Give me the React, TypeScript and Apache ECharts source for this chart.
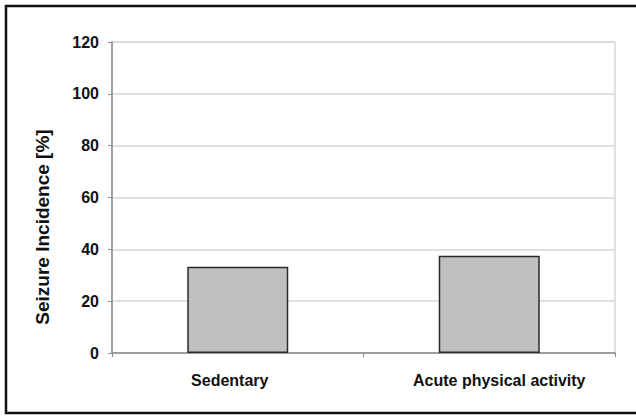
import React, { useEffect, useRef } from "react";
import * as echarts from "echarts";

const categories = ["Sedentary", "Acute physical activity"];
const seizureIncidence = [33.3, 37.5];
const yTicks = [0, 20, 40, 60, 80, 100, 120];
const yTitle = "Seizure Incidence [%]";

export default function App() {
  const ref = useRef<HTMLDivElement>(null);
  useEffect(() => {
    if (!ref.current) return;
    const chart = echarts.init(ref.current, undefined, { renderer: "svg" });
    const font = "Liberation Sans, Arial, Helvetica, sans-serif";
    chart.setOption({
      animation: false,
      backgroundColor: "#ffffff",
      grid: {
        left: 112,
        right: 21,
        top: 42,
        bottom: 63,
        show: true,
        borderColor: "#c4c4c4",
        borderWidth: 1,
        containLabel: false,
      },
      xAxis: {
        type: "category",
        data: categories,
        axisLine: { show: true, lineStyle: { color: "#8a8a8a", width: 1.5 } },
        axisTick: { show: true, length: 4, lineStyle: { color: "#8a8a8a" } },
        axisLabel: {
          interval: 0,
          hideOverlap: false,
          color: "#111",
          fontFamily: font,
          fontWeight: "bold",
          fontSize: 16,
          margin: 19,
          formatter: (v: string, i: number) => (i === 0 ? `{a|${v}}` : `{b|${v}}`),
          rich: {
            a: {
              color: "#111",
              fontFamily: font,
              fontWeight: "bold",
              fontSize: 16,
              padding: [0, 16, 0, 0],
            },
            b: {
              color: "#111",
              fontFamily: font,
              fontWeight: "bold",
              fontSize: 16,
              padding: [0, 0, 0, 20],
            },
          },
        },
      },
      yAxis: {
        type: "value",
        min: yTicks[0],
        max: yTicks[yTicks.length - 1],
        interval: 20,
        axisLine: { show: true, lineStyle: { color: "#8a8a8a", width: 1.5 } },
        axisTick: { show: true, length: 4, lineStyle: { color: "#8a8a8a" } },
        splitLine: { show: true, lineStyle: { color: "#d6d6d6", width: 1.5 } },
        axisLabel: {
          color: "#111",
          fontFamily: font,
          fontWeight: "bold",
          fontSize: 16,
          margin: 13,
        },
      },
      series: [
        {
          type: "bar",
          data: seizureIncidence,
          barWidth: 101,
          itemStyle: {
            color: "#c0c0c0",
            borderColor: "#2a2a2a",
            borderWidth: 1.5,
          },
        },
      ],
      graphic: [
        {
          type: "rect",
          shape: { x: 6, y: 6, width: 640, height: 407 },
          style: { fill: "none", stroke: "#111", lineWidth: 2.5 },
          silent: true,
        },
        {
          type: "text",
          x: 42,
          y: 227,
          rotation: Math.PI / 2,
          style: {
            text: yTitle,
            fill: "#111",
            font: `bold 19px ${font}`,
            align: "center",
            verticalAlign: "middle",
          },
          silent: true,
        },
      ],
    });
    return () => chart.dispose();
  }, []);
  return (
    <div
      ref={ref}
      style={{ position: "absolute", left: 0, top: 0, width: 636, height: 416 }}
    />
  );
}
